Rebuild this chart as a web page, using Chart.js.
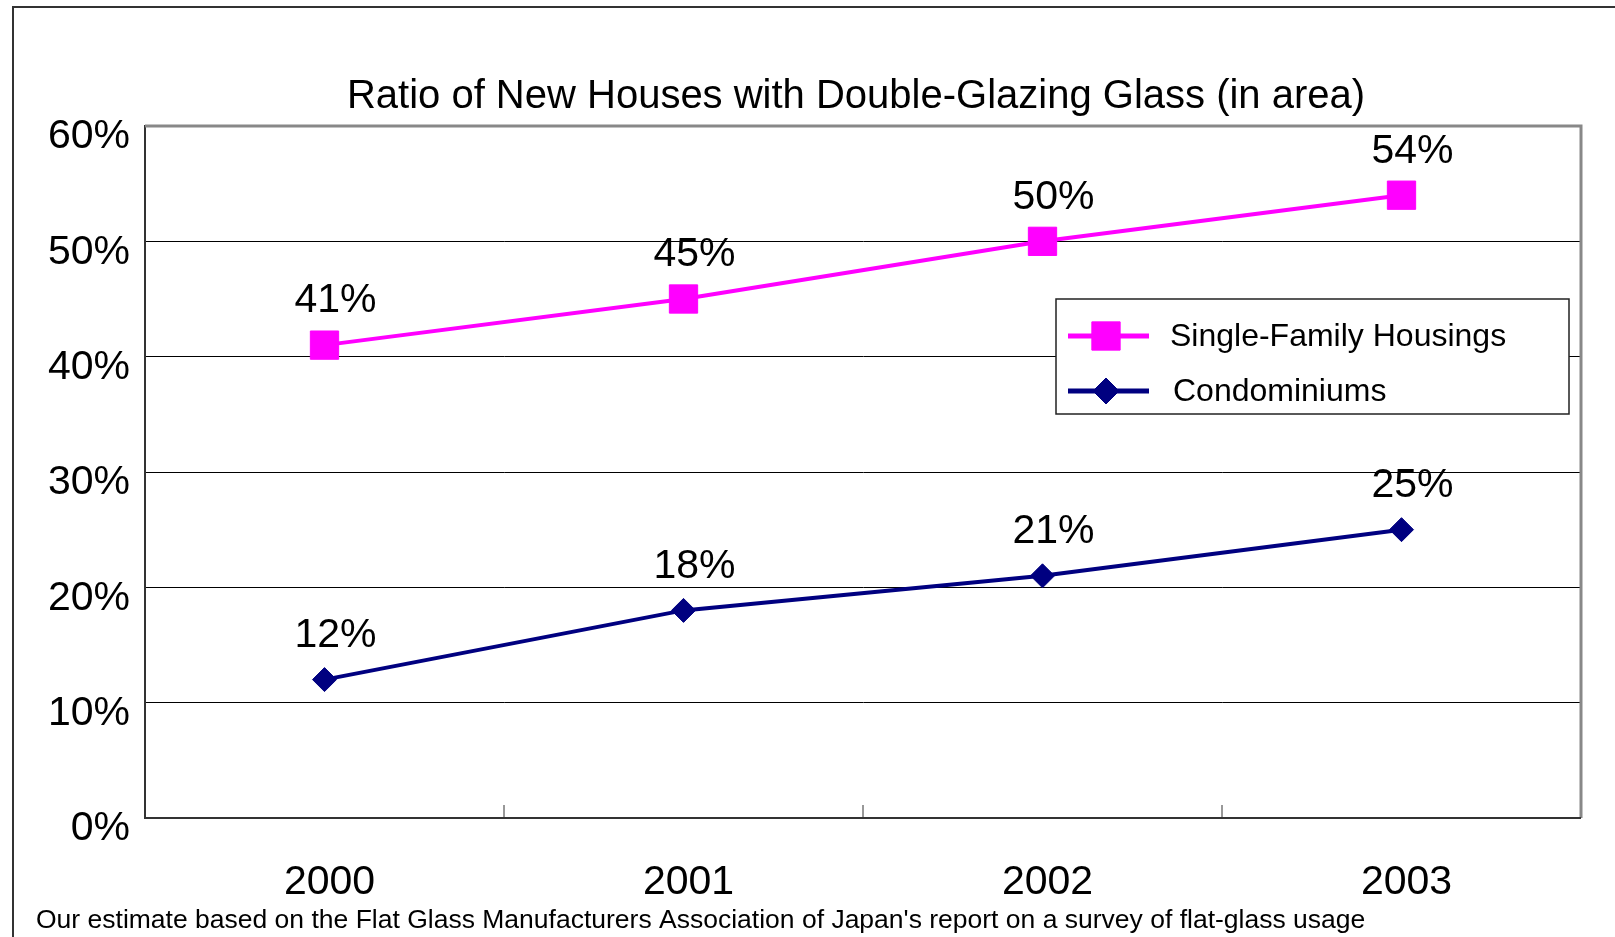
<!DOCTYPE html>
<html lang="en">
<head>
    <meta charset="UTF-8">
    <title>Double-Glazing Glass Ratio</title>
    <style>
        html, body { margin: 0; padding: 0; background: #fff; overflow: hidden; }
        #wrap { width: 1615px; height: 937px; }
    </style>
</head>
<body>
<div id="wrap"><canvas id="glassChart" width="1615" height="937"></canvas></div>
<script src="https://cdn.jsdelivr.net/npm/chart.js"></script>
<script>
    const years = ['2000', '2001', '2002', '2003'];
    const singleFamily = [41, 45, 50, 54];
    const condos = [12, 18, 21, 25];
    const seriesNames = ['Single-Family Housings', 'Condominiums'];
    const titleText = 'Ratio of New Houses with Double-Glazing Glass (in area)';
    const footText = "Our estimate based on the Flat Glass Manufacturers Association of Japan's report on a survey of flat-glass usage";

    const FONT = "'Liberation Sans', Arial, sans-serif";

    // outer frame, plot frame, inner ticks, title, footnote
    const framePlugin = {
        id: 'frame',
        beforeDraw(chart) {
            const c = chart.ctx;
            c.save();
            c.fillStyle = '#fff';
            c.fillRect(0, 0, chart.width, chart.height);
            c.strokeStyle = '#333';
            c.lineWidth = 2;
            c.strokeRect(13, 7, 3000, 3000);
            c.restore();
        },
        afterDatasetsDraw(chart) {
            const c = chart.ctx;
            const a = chart.chartArea;
            const xs = chart.scales.x;
            c.save();
            c.strokeStyle = '#888';
            c.lineWidth = 3;
            c.beginPath();
            c.moveTo(a.left, a.top);
            c.lineTo(a.right, a.top);
            c.lineTo(a.right, a.bottom);
            c.stroke();
            c.strokeStyle = '#333';
            c.lineWidth = 2;
            c.beginPath();
            c.moveTo(a.left, a.bottom);
            c.lineTo(a.right, a.bottom);
            c.stroke();
            // small inward ticks between categories
            c.lineWidth = 1;
            for (let i = 0; i < years.length - 1; i++) {
                const px = (xs.getPixelForTick(i) + xs.getPixelForTick(i + 1)) / 2;
                c.beginPath();
                c.moveTo(px, a.bottom);
                c.lineTo(px, a.bottom - 13);
                c.stroke();
            }
            c.restore();
        },
        afterDraw(chart) {
            const c = chart.ctx;
            c.save();
            c.fillStyle = '#000';
            c.textBaseline = 'middle';
            c.textAlign = 'center';
            c.font = '40px ' + FONT;
            c.fillText(titleText, 856, 97);
            c.textAlign = 'left';
            c.font = '26.5px ' + FONT;
            c.fillText(footText, 36, 921);
            c.restore();
        }
    };

    // value labels above each point
    const valueLabels = {
        id: 'valueLabels',
        afterDatasetsDraw(chart) {
            const c = chart.ctx;
            c.save();
            c.fillStyle = '#000';
            c.font = '41px ' + FONT;
            c.textAlign = 'center';
            c.textBaseline = 'middle';
            chart.data.datasets.forEach((ds, i) => {
                chart.getDatasetMeta(i).data.forEach((pt, j) => {
                    c.fillText(ds.data[j] + '%', pt.x + 11, pt.y - 44);
                });
            });
            c.restore();
        }
    };

    // boxed legend inside the plot
    const boxLegend = {
        id: 'boxLegend',
        afterDraw(chart) {
            const c = chart.ctx;
            const bx = 1056, by = 299, bw = 513, bh = 115;
            c.save();
            c.fillStyle = '#fff';
            c.fillRect(bx, by, bw, bh);
            c.strokeStyle = '#222';
            c.lineWidth = 1.5;
            c.strokeRect(bx, by, bw, bh);
            const rows = [336, 391];
            const textX = [1170, 1173];
            chart.data.datasets.forEach((ds, i) => {
                const y = rows[i];
                c.strokeStyle = ds.borderColor;
                c.lineWidth = 5;
                c.beginPath();
                c.moveTo(1068, y);
                c.lineTo(1149, y);
                c.stroke();
                c.fillStyle = ds.pointBackgroundColor;
                c.strokeStyle = ds.pointBorderColor;
                c.lineWidth = 1;
                Chart.helpers.drawPoint(c, {
                    pointStyle: ds.pointStyle,
                    radius: ds.pointRadius + (i === 1 ? 1 : 0),
                    rotation: 0,
                    borderWidth: 1
                }, 1106, y);
                c.fillStyle = '#000';
                c.font = '32px ' + FONT;
                c.textBaseline = 'middle';
                c.textAlign = 'left';
                c.fillText(ds.label, textX[i], y + 1);
            });
            c.restore();
        }
    };

    const ctx = document.getElementById('glassChart').getContext('2d');
    const glassChart = new Chart(ctx, {
        type: 'line',
        data: {
            labels: years,
            datasets: [{
                label: seriesNames[0],
                data: singleFamily,
                borderColor: '#FF00FF',
                backgroundColor: '#FF00FF',
                pointBackgroundColor: '#FF00FF',
                pointBorderColor: '#FF00FF',
                pointStyle: 'rect',
                pointRadius: 20,
                pointBorderWidth: 1,
                borderWidth: 4,
                tension: 0
            }, {
                label: seriesNames[1],
                data: condos,
                borderColor: '#000080',
                backgroundColor: '#000080',
                pointBackgroundColor: '#000080',
                pointBorderColor: '#000080',
                pointStyle: 'rectRot',
                pointRadius: 12,
                pointBorderWidth: 1,
                borderWidth: 4,
                tension: 0
            }]
        },
        options: {
            responsive: false,
            animation: false,
            layout: { padding: { left: 0, right: 34, top: 126, bottom: 0 } },
            plugins: {
                legend: { display: false },
                tooltip: { enabled: false },
                title: { display: false }
            },
            scales: {
                x: {
                    offset: true,
                    grid: { display: false, drawTicks: false },
                    border: { display: false },
                    ticks: {
                        color: '#000',
                        font: { family: FONT, size: 41 },
                        padding: 40,
                        labelOffset: 5
                    },
                    afterFit(scale) { scale.height = 119; }
                },
                y: {
                    min: 0,
                    max: 60,
                    grid: {
                        drawTicks: false,
                        color: (c) => (c.tick && (c.tick.value === 60 || c.tick.value === 0)) ? 'rgba(0,0,0,0)' : '#000',
                        lineWidth: 1
                    },
                    border: { color: '#333', width: 2 },
                    ticks: {
                        stepSize: 10,
                        color: '#000',
                        font: { family: FONT, size: 41 },
                        padding: 15,
                        labelOffset: 11,
                        callback: (v) => v + '%'
                    },
                    afterFit(scale) { scale.width = 145; }
                }
            }
        },
        plugins: [framePlugin, valueLabels, boxLegend]
    });
</script>
</body>
</html>
